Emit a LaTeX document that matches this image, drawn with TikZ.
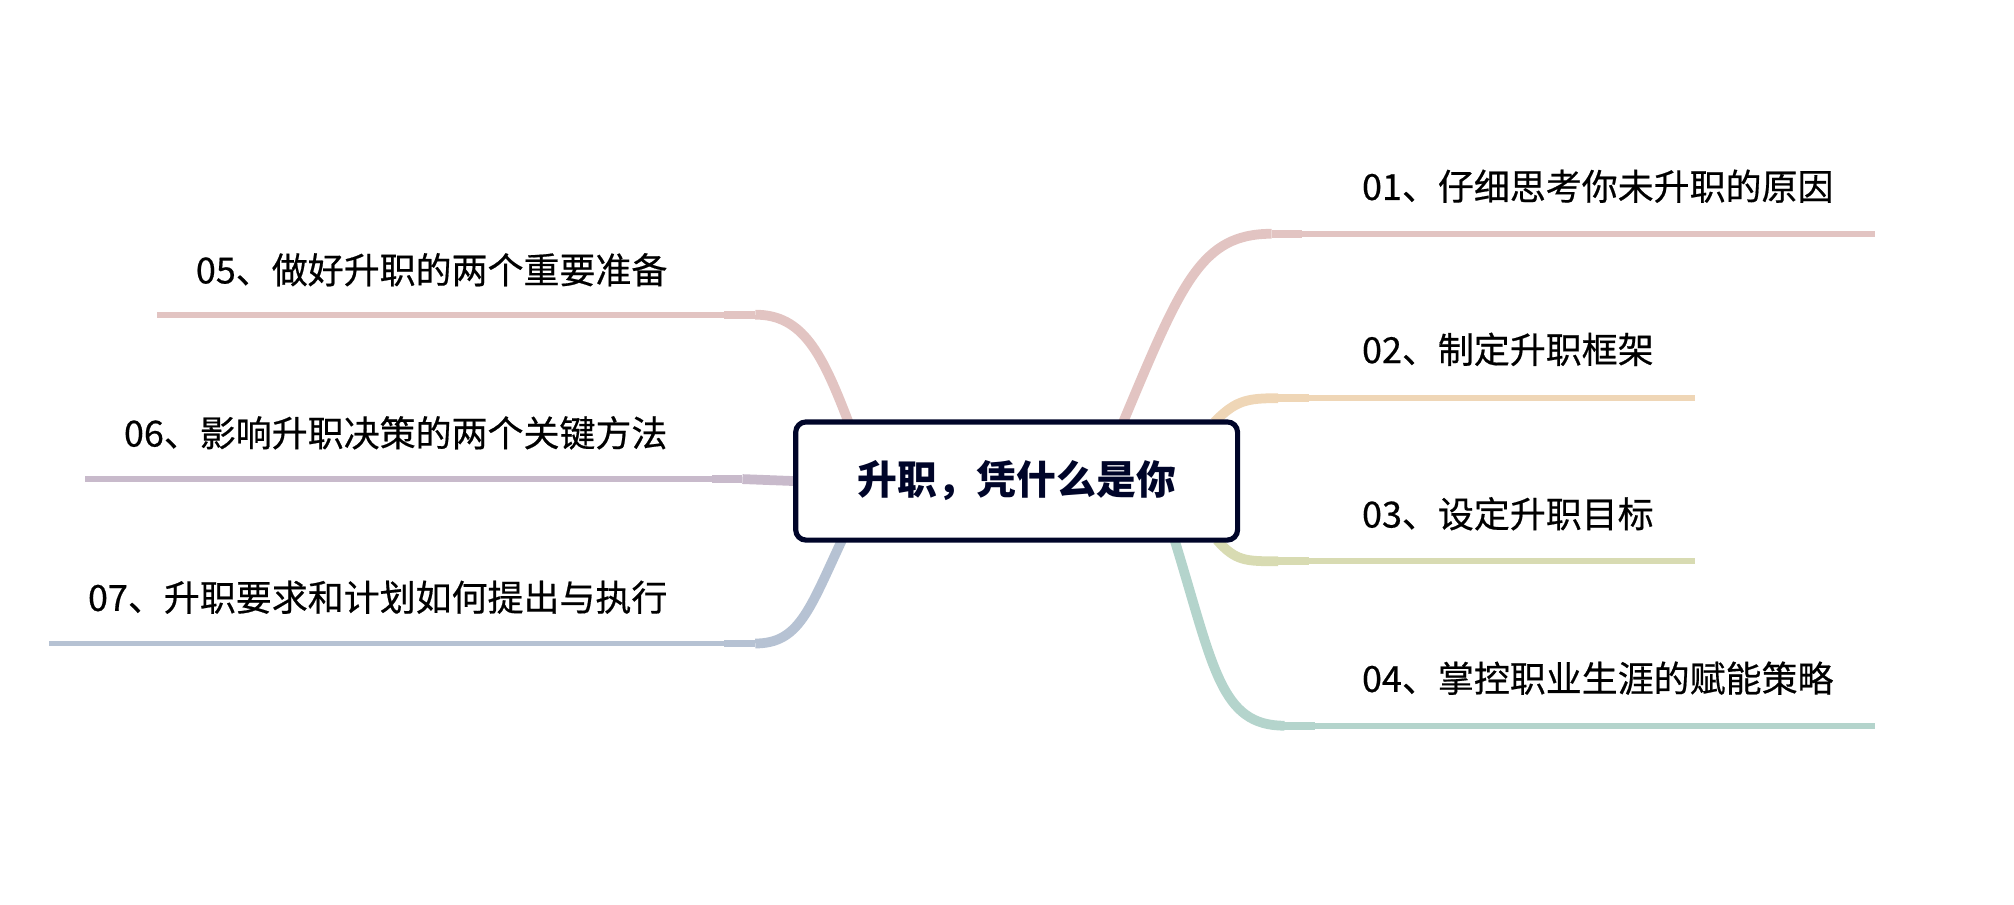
\documentclass[tikz,border=0pt]{standalone}
\usepackage{fontspec}
\setmainfont{Noto Sans CJK SC}
\newfontfamily\topicfont{Noto Sans CJK SC}[FakeBold=0.5]
\usepackage{tikz}
\usetikzlibrary{calc}
\definecolor{rootNavy}{HTML}{000529}
\definecolor{branchRose}{HTML}{E2C4C2}
\definecolor{branchPeach}{HTML}{EFD6B6}
\definecolor{branchOlive}{HTML}{D8DBB2}
\definecolor{branchMint}{HTML}{B4D4CC}
\definecolor{branchLilac}{HTML}{C8BACB}
\definecolor{branchSteel}{HTML}{B6C2D3}
\pgfdeclarelayer{back}
\pgfsetlayers{back,main}
\tikzset{
  topic/.style={inner sep=0pt, font=\topicfont\fontsize{14pt}{16pt}\selectfont},
  stem/.style={line width=3.8pt},
  knot/.style={line width=3pt},
  twig/.style={line width=2.3pt}
}
\def\scale{0.5pt}

\begin{document}
\begin{tikzpicture}[x=\scale, y=-\scale, line cap=butt]
	\useasboundingbox (0,0) rectangle (1568,704);

	% centre
	\node[draw=rootNavy, line width=2pt, rounded corners=4pt, fill=white, minimum width=172pt, minimum height=46pt, text=rootNavy, font=\fontsize{15.5pt}{18pt}\selectfont\bfseries] (root) at (791.5,374.5) {升职，凭什么是你};

	% right side
	\node[topic, anchor=west] (t1) at (1060,145) {01、仔细思考你未升职的原因};
	\node[topic, anchor=west] (t2) at (1060,272) {02、制定升职框架};
	\node[topic, anchor=west] (t3) at (1060,400) {03、设定升职目标};
	\node[topic, anchor=west] (t4) at (1060,528) {04、掌控职业生涯的赋能策略};
	% left side
	\node[topic, anchor=east] (t5) at (520,210) {05、做好升职的两个重要准备};
	\node[topic, anchor=east] (t6) at (520,337) {06、影响升职决策的两个关键方法};
	\node[topic, anchor=east] (t7) at (520,465) {07、升职要求和计划如何提出与执行};

	\coordinate (k1) at (990,182);  \coordinate (e1) at (1460,182);
	\coordinate (k2) at (995,310);  \coordinate (e2) at (1320,310);
	\coordinate (k3) at (995,437);  \coordinate (e3) at (1320,437);
	\coordinate (k4) at (1000,565); \coordinate (e4) at (1460,565);
	\coordinate (k5) at (588,245);  \coordinate (e5) at (122,245);
	\coordinate (k6) at (578,373);  \coordinate (e6) at (66,373);
	\coordinate (k7) at (588,501);  \coordinate (e7) at (38,501);

	\begin{pgfonlayer}{back}
	\draw[branchRose, stem] ($(root.north)+(83,2)$) .. controls (920,220) and (935,182) .. (k1);
	\draw[branchPeach, stem] ($(root.north east)+(-20,2)$) .. controls (962,312) and (970,310) .. (k2);
	\draw[branchOlive, stem] ($(root.south east)+(-18,-2)$) .. controls (962,437) and (970,437) .. (k3);
	\draw[branchMint, stem] ($(root.south)+(123,-2)$) .. controls (945,520) and (950,565) .. (k4);
	\draw[branchRose, stem] ($(root.north)+(-131,2)$) .. controls (640,275) and (625,245) .. (k5);
	\draw[branchLilac, stem] (root.west) -- (k6);
	\draw[branchSteel, stem] ($(root.south)+(-136,-2)$) .. controls (630,475) and (622,501) .. (k7);
	% thinner tails
	\foreach \b/\c in {1/branchRose, 2/branchPeach, 3/branchOlive, 4/branchMint, 5/branchRose, 6/branchLilac, 7/branchSteel} {
		\draw[\c, knot] (k\b) -- ($(k\b)!12pt!(e\b)$);
		\draw[\c, twig] (k\b) -- (e\b);
	}
	\end{pgfonlayer}

\end{tikzpicture}
\end{document}
